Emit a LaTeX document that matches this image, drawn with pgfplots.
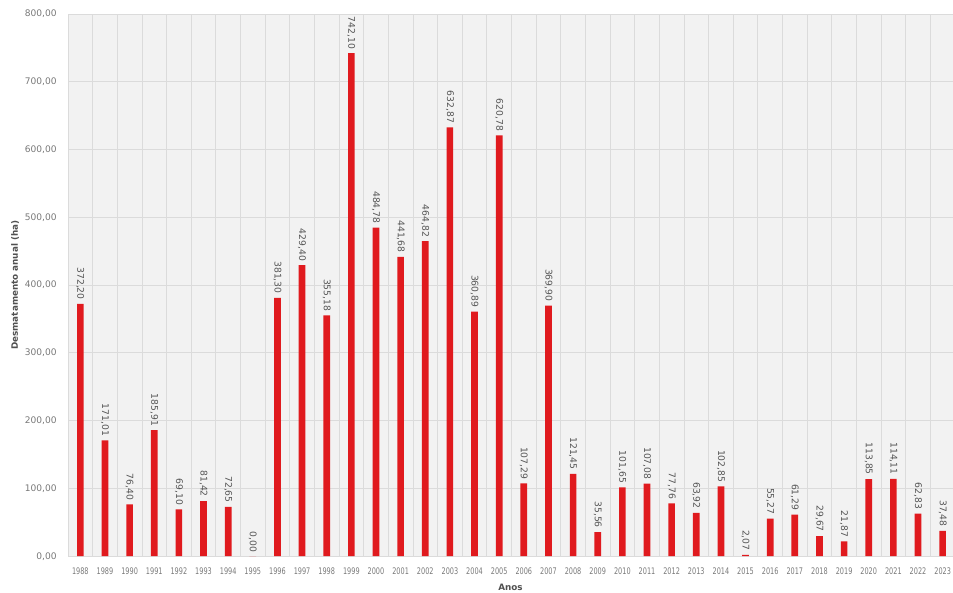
\documentclass[border=0pt]{standalone}
\usepackage{fontspec}
\setmainfont{DejaVu Sans}
\usepackage{pgfplots}
\usepackage{pgfplotstable}
\pgfplotsset{compat=1.18}
\usetikzlibrary{calc}

\definecolor{barred}{RGB}{224,26,30}
\definecolor{plotbg}{RGB}{242,242,242}
\definecolor{gridc}{RGB}{219,219,219}
\definecolor{ticktext}{RGB}{120,120,120}
\definecolor{valtext}{RGB}{85,85,85}
\definecolor{labtext}{RGB}{80,80,80}

% Desmatamento anual (ha), 1988--2023
\pgfplotstableread{
x year value
0 1988 372.20
1 1989 171.01
2 1990 76.40
3 1991 185.91
4 1992 69.10
5 1993 81.42
6 1994 72.65
7 1995 0.00
8 1996 381.30
9 1997 429.40
10 1998 355.18
11 1999 742.10
12 2000 484.78
13 2001 441.68
14 2002 464.82
15 2003 632.87
16 2004 360.89
17 2005 620.78
18 2006 107.29
19 2007 369.90
20 2008 121.45
21 2009 35.56
22 2010 101.65
23 2011 107.08
24 2012 77.76
25 2013 63.92
26 2014 102.85
27 2015 2.07
28 2016 55.27
29 2017 61.29
30 2018 29.67
31 2019 21.87
32 2020 113.85
33 2021 114.11
34 2022 62.83
35 2023 37.48
}\desmat

\begin{document}
\begin{tikzpicture}
\begin{axis}[
  scale only axis,
  width=663.5pt, height=406.5pt,
  xmin=-0.5, xmax=35.42,
  ymin=0, ymax=800,
  ytick={0,100,...,800},
  xtick={0,...,35},
  xticklabels from table={\desmat}{year},
  minor xtick={-0.5,0.5,...,35.5},
  xminorgrids, ymajorgrids,
  major tick length=0pt, minor tick length=0pt,
  axis background/.style={fill=plotbg},
  grid style={draw=gridc, line width=0.6pt},
  minor grid style={draw=gridc, line width=0.6pt},
  axis line style={draw=gridc, line width=0.6pt},
  /pgf/number format/assume math mode=true,
  tick label style={font=\fontsize{6.8}{8}\selectfont, text=ticktext},
  yticklabel style={xshift=-5pt,
    /pgf/number format/.cd, fixed, fixed zerofill, precision=2, use comma, 1000 sep={}},
  xticklabel style={yshift=-5pt, xscale=0.72},
  xlabel={Anos},
  ylabel={Desmatamento anual (ha)},
  label style={font=\bfseries\fontsize{6.6}{8}\selectfont, text=labtext},
  xlabel style={at={(axis description cs:0.5,-0.0572)}, anchor=center},
  ylabel style={at={(axis description cs:-0.0599,0.5)}, anchor=center},
  ybar, bar width=5pt,
  point meta=explicit,
  nodes near coords={\pgfmathprintnumber[fixed, fixed zerofill, precision=2, use comma, 1000 sep={}, assume math mode=true]{\pgfplotspointmeta}},
  nodes near coords style={rotate=-90, anchor=east, inner xsep=3pt, inner ysep=0pt,
    font=\fontsize{6.9}{8}\selectfont, text=valtext},
]
\addplot[fill=barred, draw=none] table[x=x, y=value, meta=value] {\desmat};
\end{axis}
\pgfresetboundingbox
\path ($(current axis.south west)+(-51pt,-27pt)$) rectangle ($(current axis.north east)+(0pt,10.5pt)$);
\end{tikzpicture}
\end{document}
